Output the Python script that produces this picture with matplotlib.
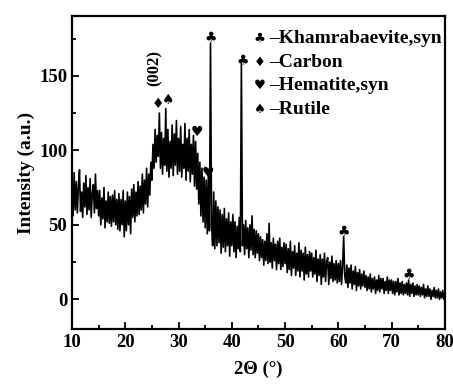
import numpy as np
import matplotlib
matplotlib.use("Agg")
import matplotlib.pyplot as plt
from matplotlib.ticker import MultipleLocator

# XRD pattern, every 0.2 deg from 10 to 80
two_theta = np.round(np.arange(10.0, 80.0001, 0.2), 1)
intensity = [
    # 10.0 - 14.8
    72, 56, 85, 60, 79, 58, 76, 87, 59, 72, 55, 78, 62, 83, 57, 75, 60, 81, 55, 71, 77, 58, 84, 61, 73,
    # 15.0 - 19.8
    56, 73, 50, 68, 54, 75, 48, 66, 52, 72, 51, 69, 49, 70, 52, 73, 50, 67, 47, 71, 46, 67, 50, 73, 42,
    # 20.0 - 24.8
    66, 46, 72, 50, 69, 44, 74, 55, 77, 52, 72, 56, 79, 57, 76, 60, 84, 58, 80, 64, 88, 62, 84, 70, 92,
    # 25.0 - 29.8
    80, 104, 88, 114, 92, 110, 96, 125, 88, 112, 84, 108, 90, 128, 86, 114, 82, 106, 88, 117, 83, 111, 90, 120, 84,
    # 30.0 - 34.8
    108, 86, 116, 82, 104, 88, 118, 80, 108, 86, 114, 79, 104, 84, 110, 76, 106, 74, 98, 64, 92, 56, 88, 52, 82,
    # 35.0 - 39.8
    48, 80, 44, 84, 46, 172, 50, 36, 72, 34, 66, 36, 62, 38, 60, 31, 57, 35, 61, 32, 54, 36, 58, 29, 52,
    # 40.0 - 44.8
    36, 57, 32, 52, 28, 49, 34, 55, 32, 158, 36, 50, 30, 53, 34, 48, 28, 50, 33, 56, 30, 47, 28, 46, 31,
    # 45.0 - 49.8
    44, 26, 42, 28, 40, 23, 39, 26, 44, 24, 51, 25, 38, 21, 41, 26, 37, 20, 39, 24, 41, 20, 35, 22, 38,
    # 50.0 - 54.8
    24, 37, 18, 34, 20, 39, 16, 32, 21, 36, 16, 31, 19, 38, 15, 33, 19, 31, 13, 35, 17, 30, 15, 32, 19,
    # 55.0 - 59.8
    31, 15, 28, 17, 33, 12, 27, 16, 30, 10, 27, 15, 31, 12, 25, 28, 10, 25, 14, 29, 12, 24, 13, 26, 11,
    # 60.0 - 64.8
    24, 12, 26, 10, 22, 42, 16, 11, 23, 8, 21, 11, 23, 7, 19, 10, 22, 6, 18, 9, 20, 7, 17, 9, 19,
    # 65.0 - 69.8
    8, 16, 6, 15, 7, 17, 5, 14, 7, 15, 4, 13, 6, 16, 5, 14, 7, 14, 4, 12, 6, 15, 4, 13, 6,
    # 70.0 - 74.8
    13, 4, 12, 3, 12, 5, 14, 3, 11, 4, 12, 3, 10, 4, 11, 3, 13, 2, 10, 4, 11, 2, 9, 3, 10,
    # 75.0 - 80.0
    3, 9, 2, 8, 3, 10, 1, 7, 2, 9, 2, 7, 0, 6, 2, 8, 1, 6, 1, 7, 0, 5, 1, 6, 0, 2,
]

# phase markers placed over the peaks
mark_x = [26.2, 28.1, 33.4, 35.6, 36.0, 42.0, 61.0, 73.2]
mark_y = [131, 134, 112, 85, 175, 160, 45, 16]
mark_sym = ["\u2666", "\u2660", "\u2665", "\u2665", "\u2663", "\u2663", "\u2663", "\u2663"]

legend_sym = ["\u2663", "\u2666", "\u2665", "\u2660"]
legend_txt = ["Khamrabaevite,syn", "Carbon", "Hematite,syn", "Rutile"]

fam = ["Liberation Serif", "DejaVu Serif", "DejaVu Sans"]
plt.rcParams["font.family"] = fam
plt.rcParams["font.weight"] = "bold"

fig = plt.figure(figsize=(4.53, 3.85), dpi=100)
ax = fig.add_axes([0.159, 0.145, 0.823, 0.813])

ax.plot(two_theta, intensity, color="black", lw=1.2)

for x, y, s in zip(mark_x, mark_y, mark_sym):
    ax.text(x, y, s, ha="center", va="center", fontsize=10,
            family=["DejaVu Sans"])

ax.text(25.6, 155, "(002)", rotation=90, ha="center", va="center",
        fontsize=12, fontweight="bold")

for i, (s, t) in enumerate(zip(legend_sym, legend_txt)):
    yy = 0.928 - i * 0.075
    ax.text(0.503, yy, s, transform=ax.transAxes, ha="center", va="center",
            fontsize=9.5, family=["DejaVu Sans"])
    ax.text(0.528, yy, "\u2013" + t, transform=ax.transAxes, ha="left",
            va="center", fontsize=14, fontweight="bold")

ax.set_xlim(10, 80)
ax.set_ylim(-20, 190)
ax.xaxis.set_major_locator(MultipleLocator(10))
ax.xaxis.set_minor_locator(MultipleLocator(5))
ax.yaxis.set_major_locator(MultipleLocator(50))
ax.yaxis.set_minor_locator(MultipleLocator(25))
ax.tick_params(which="both", direction="in", width=1.3, labelsize=13.5)
ax.tick_params(which="major", length=5)
ax.tick_params(which="minor", length=3)
for sp in ax.spines.values():
    sp.set_linewidth(1.6)
for lab in ax.get_xticklabels() + ax.get_yticklabels():
    lab.set_fontweight("bold")

ax.set_xlabel("2\u0398 (\u00b0)", fontsize=13.5, fontweight="bold", labelpad=7)
ax.set_ylabel("Intensity (a.u.)", fontsize=14, fontweight="bold", labelpad=3)

fig.savefig("out.png", dpi=100)
